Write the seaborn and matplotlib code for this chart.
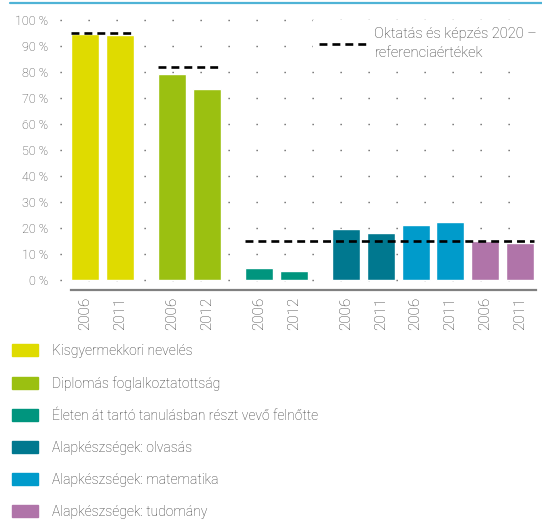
import matplotlib
matplotlib.use("Agg")
import matplotlib.pyplot as plt
from matplotlib.lines import Line2D
from matplotlib.patches import Patch
import seaborn as sns
import pandas as pd

# adatok
categories = ["Kisgyermekkori nevelés", "Diplomás foglalkoztatottság",
              "Életen át tartó tanulásban részt vevő felnőtte",
              "Alapkészségek: olvasás", "Alapkészségek: matematika",
              "Alapkészségek: tudomány"]
colors = ["#dfdb00", "#9bc011", "#00957e", "#00788f", "#009bcb", "#b074a9"]
years = ["2006", "2011", "2006", "2012", "2006", "2012",
         "2006", "2011", "2006", "2011", "2006", "2011"]
values = [94.6, 94.2, 79.2, 73.5, 4.6, 3.4, 19.6, 18.0, 21.2, 22.3, 15.0, 14.2]
bar_cat = [0, 0, 1, 1, 2, 2, 3, 3, 4, 4, 5, 5]
positions = [0, 1, 2.5, 3.5, 5, 6, 7.5, 8.5, 9.5, 10.5, 11.5, 12.5]
benchmarks = [95, 82, 15]
bench_first = [0, 2, 4]   # első / utolsó oszlop indexe
bench_last = [1, 3, 11]
yticks = list(range(0, 101, 10))

sns.set_theme(style="white")
plt.rcParams['font.family'] = ['Roboto', 'DejaVu Sans']
plt.rcParams['font.weight'] = 'light'

W, H = 542, 519
fig = plt.figure(figsize=(W / 100, H / 100), dpi=100)
ax = fig.add_axes([60 / W, 1 - 290 / H, 476 / W, 278 / H])

df = pd.DataFrame({"pos": positions, "value": values,
                   "cat": [categories[i] for i in bar_cat]})
sns.barplot(data=df, x="pos", y="value", hue="cat", hue_order=categories,
            palette=colors, native_scale=True, dodge=False, width=0.8,
            legend=False, saturation=1, ax=ax, zorder=3)

unit = 34.8
xl = -(85 - 60) / unit
xr = (536 - 85) / unit
ax.set_xlim(xl, xr)
ax.set_ylim(-10 / 2.6, 268 / 2.6)

# pontozott rács
ax.hlines(yticks, xl, xr, colors="#555555", lw=1,
          linestyles=[(0, (0.9, 19.26))], zorder=1)

# referenciaértékek
for b, i0, i1 in zip(benchmarks, bench_first, bench_last):
    ax.hlines(b, positions[i0] - 0.4, positions[i1] + 0.4, colors="black",
              lw=1.9, linestyles=[(0, (3.0, 1.9))], zorder=4)

for s in ["top", "left", "right"]:
    ax.spines[s].set_visible(False)
ax.spines["bottom"].set_color("#808080")
ax.spines["bottom"].set_linewidth(1.6)
ax.spines["bottom"].set_bounds(-0.4, xr)

ax.set_xticks(positions, labels=years, rotation=90, fontsize=11, color="#333333")
ax.set_yticks(yticks, labels=[f"{v} %" for v in yticks], fontsize=9, color="#444444")
ax.tick_params(axis="both", length=0)
ax.tick_params(axis="x", pad=4.5)
ax.tick_params(axis="y", pad=8.5)
ax.set_xlabel("")
ax.set_ylabel("")

leg = ax.legend(handles=[Line2D([], [], color="black", lw=1.9, ls=(0, (3.0, 1.9)))],
                labels=["Oktatás és képzés 2020 –\nreferenciaértékek"],
                loc="upper left", bbox_to_anchor=(312.5 / W, 1 - 20.5 / H),
                bbox_transform=fig.transFigure, frameon=True, fancybox=False,
                facecolor="white", edgecolor="none", framealpha=1, fontsize=10.5,
                handlelength=3.3, handletextpad=0.5, borderpad=0.45, borderaxespad=0,
                labelcolor="#333333")
leg.set_zorder(5)
for t in leg.get_texts():
    t.set_linespacing(1.45)

fig.legend(handles=[Patch(color=c) for c in colors], labels=categories,
           loc="upper left", bbox_to_anchor=(12 / W, 1 - 344 / H),
           frameon=False, fontsize=10, handlelength=1.87, handleheight=0.94,
           handletextpad=1.0, labelspacing=1.3, borderpad=0, borderaxespad=0,
           labelcolor="#333333")

# kék vonal felül
fig.add_artist(Line2D([10 / W, 1], [1 - 3 / H, 1 - 3 / H], color="#4fb3d6",
                      lw=1.6, transform=fig.transFigure))

fig.savefig("out.png", dpi=100)
